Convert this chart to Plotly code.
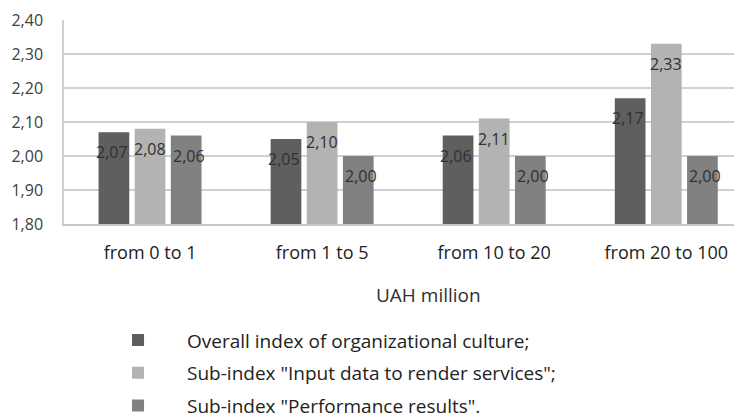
import plotly.graph_objects as go

categories = ["from 0 to 1", "from 1 to 5", "from 10 to 20", "from 20 to 100"]
series_names = [
    "Overall index of organizational culture;",
    "Sub-index \"Input data to render services\";",
    "Sub-index \"Performance results\".",
]
overall = [2.07, 2.05, 2.06, 2.17]
input_data = [2.08, 2.10, 2.11, 2.33]
performance = [2.06, 2.00, 2.00, 2.00]
y_ticks = [1.80, 1.90, 2.00, 2.10, 2.20, 2.30, 2.40]

colors = ["#5f5f5f", "#b3b3b3", "#818181"]
font_family = "Open Sans, sans-serif"

fig = go.Figure()

all_series = [overall, input_data, performance]

for i, (name, values) in enumerate(zip(series_names, all_series)):
    fig.add_trace(
        go.Bar(
            x=categories,
            y=values,
            name=name,
            marker=dict(color=colors[i], line=dict(width=0)),
            legendgroup=f"g{i}",
            hoverinfo="skip",
        )
    )

# value labels, sitting a little below the top of each bar
offsets = [-38.5, 0, 38.5]
for i, values in enumerate(all_series):
    for cat, v in zip(categories, values):
        fig.add_annotation(
            x=cat,
            y=v,
            xref="x",
            yref="y",
            text=f"{v:.2f}".replace(".", ","),
            showarrow=False,
            xshift=offsets[i],
            yanchor="top",
            yshift=-7,
            font=dict(family=font_family, size=16, color="#303030"),
        )

fig.add_annotation(
    x=0.537,
    y=-0.348,
    xref="paper",
    yref="paper",
    xanchor="center",
    yanchor="middle",
    text="UAH million",
    showarrow=False,
    font=dict(family=font_family, size=19, color="#303030"),
)

# page has an 8px body margin, so the figure is 8px smaller than the window
fig.update_layout(
    width=734,
    height=410,
    margin=dict(l=56, r=0, t=12, b=194, autoexpand=False),
    paper_bgcolor="white",
    plot_bgcolor="white",
    barmode="group",
    bargap=0.37,
    bargroupgap=0.15,
    separators=", ",
    font=dict(family=font_family, size=16, color="#404040"),
    legend=dict(
        xref="container",
        yref="container",
        x=0.1104,
        y=0.236,
        xanchor="left",
        yanchor="top",
        traceorder="grouped",
        tracegroupgap=5,
        itemwidth=88,
        font=dict(family=font_family, size=19, color="#222222"),
    ),
    xaxis=dict(
        range=[-0.5, 3.44],
        showgrid=False,
        showline=True,
        linecolor="#c8c8c8",
        linewidth=1.5,
        ticks="",
        tickangle=0,
        ticklabelstandoff=12,
        tickfont=dict(family=font_family, size=18, color="#222222"),
    ),
    yaxis=dict(
        range=[1.80, 2.40],
        tickvals=y_ticks,
        tickformat=".2f",
        showgrid=True,
        gridcolor="#d0d0d0",
        gridwidth=1.5,
        showline=True,
        linecolor="#d0d0d0",
        linewidth=1.5,
        zeroline=False,
        ticks="",
        ticklabelstandoff=16,
        tickfont=dict(family=font_family, size=16, color="#404040"),
    ),
)

fig.write_html("out.html")
